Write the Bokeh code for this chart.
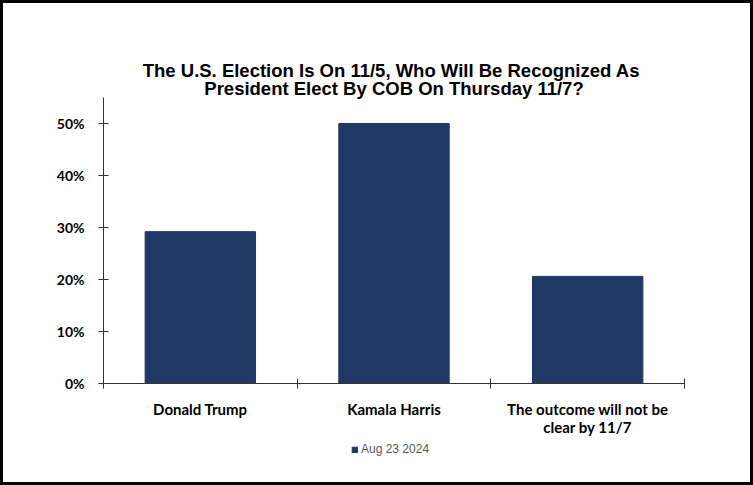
from bokeh.plotting import figure
from bokeh.models import Range1d, FixedTicker, NumeralTickFormatter, Legend, LegendItem, Label
from bokeh.embed import file_html
from bokeh.resources import INLINE

# ---- data ----
categories = ["Donald Trump", "Kamala Harris", "The outcome will not be clear by 11/7"]
category_labels = ["Donald Trump", "Kamala Harris", "The outcome will not be\nclear by 11/7"]
series_name = "Aug 23 2024"
values = [0.292, 0.500, 0.206]
y_ticks = [0.0, 0.1, 0.2, 0.3, 0.4, 0.5]
title_lines = ["The U.S. Election Is  On 11/5, Who Will Be Recognized As",
               "President Elect By COB On Thursday 11/7?"]

W, H = 753, 485
# pixel anchors of the plotting area inside the canvas
px_left, px_right = 103, 684      # category span
px_zero, px_half = 383, 123       # y = 0 and y = 0.5 (from top)
y_top_val = 0.55

n = len(categories)
xs = [i + 0.5 for i in range(n)]
bounds = [float(i) for i in range(n + 1)]

ux = (px_right - px_left) / n
uy = (px_zero - px_half) / 0.5
x_range = Range1d(-px_left / ux, (W - px_left) / ux)
y_range = Range1d(-(H - px_zero) / uy, px_zero / uy)

p = figure(width=W, height=H, output_backend="svg", toolbar_location=None, title=None,
           x_range=x_range, y_range=y_range,
           min_border_left=0, min_border_right=0, min_border_top=0, min_border_bottom=0)
p.outline_line_color = "black"
p.outline_line_width = 5
p.xgrid.visible = False
p.ygrid.visible = False

# title (two centred lines)
for i, line in enumerate(title_lines):
    p.add_layout(Label(x=n / 2, y=H - 70 - 18 * i, y_units="screen", text=line,
                       text_align="center", text_baseline="middle",
                       text_font="Liberation Sans", text_font_style="bold",
                       text_font_size="18.5px", text_color="black"))

r = p.vbar(x=xs, top=values, width=0.57, fill_color="#1f3864", line_color="#1f3864")

# x axis
xa = p.xaxis[0]
xa.fixed_location = 0
xa.bounds = (0, n)
xa.ticker = FixedTicker(ticks=xs, minor_ticks=bounds)
xa.major_label_overrides = {x: lab for x, lab in zip(xs, category_labels)}
xa.major_tick_in = 0
xa.major_tick_out = 0
xa.minor_tick_in = 5
xa.minor_tick_out = 5
xa.minor_tick_line_color = "#333333"
xa.axis_line_color = "#333333"
xa.major_label_standoff = 11
xa.major_label_text_font = "Lato"
xa.major_label_text_font_style = "bold"
xa.major_label_text_font_size = "15px"
xa.major_label_text_line_height = 1.05
xa.major_label_text_color = "black"

# y axis
ya = p.yaxis[0]
ya.fixed_location = 0
ya.bounds = (0, y_top_val)
ya.ticker = FixedTicker(ticks=y_ticks)
ya.formatter = NumeralTickFormatter(format="0%")
ya.major_tick_in = 5
ya.major_tick_out = 5
ya.minor_tick_line_color = None
ya.major_tick_line_color = "#333333"
ya.axis_line_color = "#333333"
ya.major_label_standoff = 14
ya.major_label_text_font = "Lato"
ya.major_label_text_font_style = "bold"
ya.major_label_text_font_size = "14px"
ya.major_label_text_color = "black"

legend = Legend(items=[LegendItem(label=series_name, renderers=[r])],
                location=(351, 29), orientation="horizontal",
                glyph_width=7, glyph_height=7, label_standoff=3,
                label_text_font="Liberation Sans", label_text_font_size="12px",
                label_text_color="#595959", border_line_color=None,
                background_fill_alpha=0, padding=4, margin=0)
p.add_layout(legend, "center")

open("out.html", "w").write(file_html(p, INLINE))
